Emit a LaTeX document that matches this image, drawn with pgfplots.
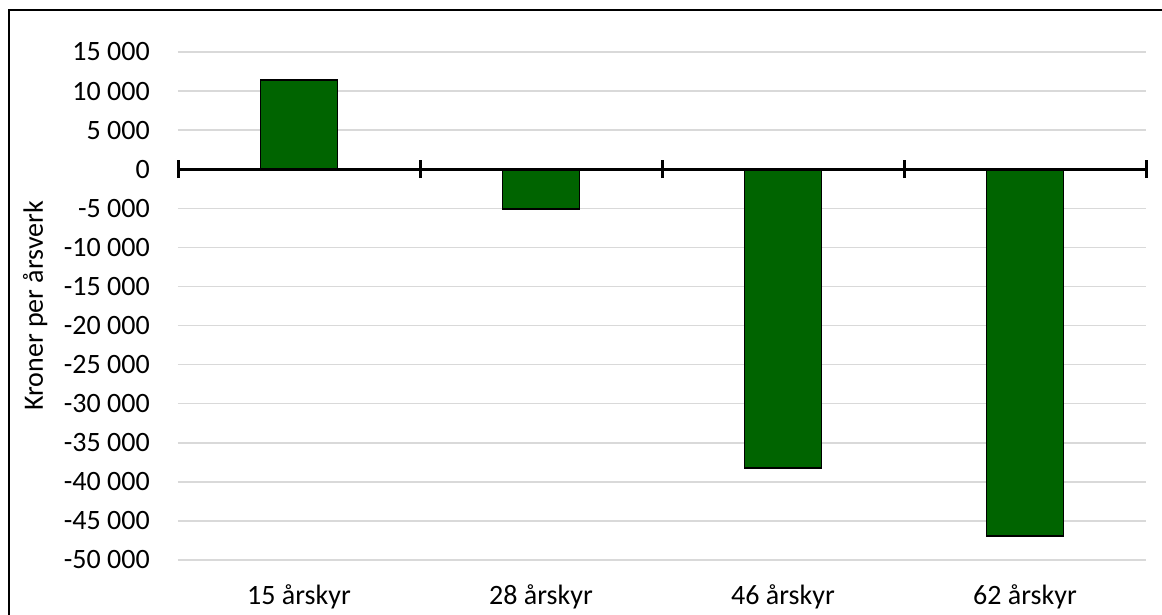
\documentclass[border=0pt]{standalone}
\usepackage{fontspec}
\setmainfont{Carlito}
\usepackage{pgfplots}
\pgfplotsset{compat=1.18}
\definecolor{bargreen}{RGB}{0,100,0}
\definecolor{gridgray}{HTML}{D9D9D9}

\begin{document}
\begin{tikzpicture}
\pgfplotsset{
  common/.style={
    at={(0,0)},anchor=south west,
    scale only axis,width=726pt,height=381pt,
    xmin=-0.5,xmax=3.5,ymin=-50000,ymax=15000,
    enlargelimits=false,
    scaled y ticks=false,
  },
}
\begin{axis}[common,
  axis line style={draw=none},
  major tick length=0pt,
  tick style={draw=none},
  ymajorgrids=true,
  grid style={gridgray,line width=1.1pt},
  ytick={-50000,-45000,-40000,-35000,-30000,-25000,-20000,-15000,-10000,-5000,0,5000,10000,15000},
  yticklabels={-50 000,-45 000,-40 000,-35 000,-30 000,-25 000,-20 000,-15 000,-10 000,-5 000,0,5 000,10 000,15 000},
  xtick={0,1,2,3},
  xticklabels={15 årskyr,28 årskyr,46 årskyr,62 årskyr},
  every tick label/.append style={font=\fontsize{21}{25}\selectfont},
  yticklabel style={anchor=east,inner sep=0pt,xshift=-21pt},
  xticklabel style={anchor=base,inner sep=0pt,yshift=-33pt},
  every axis y label/.style={at={(axis description cs:0,0.5)},xshift=-107pt,rotate=90,anchor=center,font=\fontsize{21}{25}\selectfont},
  ylabel={Kroner per årsverk},
  ybar,bar width=0.318,
]
\addplot[fill=bargreen,draw=black,line width=1.2pt] coordinates {(0,11400) (1,-5100) (2,-38200) (3,-46900)};
\end{axis}
\begin{axis}[common,
  axis x line=middle,axis y line=none,
  axis line style={-,black,line width=2.25pt},
  xtick={-0.5,0.5,1.5,2.5,3.5},
  xticklabels={},
  tick align=center,
  major tick length=13.5pt,
  tick style={black,line width=2.25pt},
  ytick=\empty,
]
\end{axis}
\draw[black,line width=1.4pt] (-126.75pt,-45pt) -- (-126.75pt,412.5pt) -- (745pt,412.5pt);
\pgfresetboundingbox
\useasboundingbox (-133.5pt,-40.5pt) rectangle (738pt,420pt);
\end{tikzpicture}
\end{document}
